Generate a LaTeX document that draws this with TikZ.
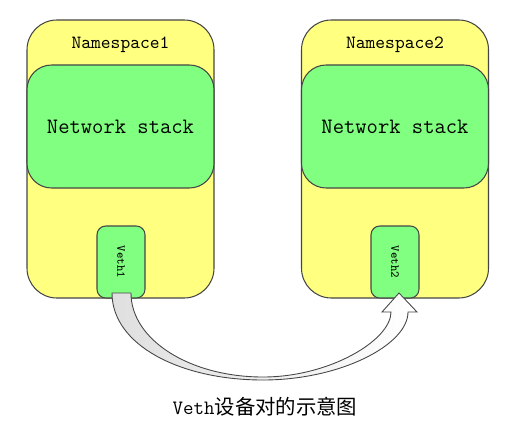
\documentclass[tikz,border=0pt]{standalone}
\usepackage{fontspec}
\newfontfamily\cjk{Noto Sans CJK SC}
\definecolor{nsyellow}{RGB}{255,255,128}
\definecolor{stackgreen}{RGB}{128,255,128}
\definecolor{edgegray}{RGB}{70,70,70}
\begin{document}
\begin{tikzpicture}[
    nsbox/.style={draw=edgegray, fill=nsyellow, rounded corners=17pt,
                  minimum width=3.74cm, minimum height=5.56cm, line width=0.6pt},
    stack/.style={draw=edgegray, fill=stackgreen, rounded corners=14pt,
                  minimum width=3.74cm, minimum height=2.46cm, line width=0.6pt,
                  font=\fontsize{12.5}{14}\ttfamily},
    veth/.style={draw=edgegray, fill=stackgreen, rounded corners=5pt,
                 minimum width=0.96cm, minimum height=1.44cm, line width=0.6pt},
    vlbl/.style={font=\fontsize{6.9}{8}\ttfamily, rotate=-90},
    nslbl/.style={font=\fontsize{10.6}{12}\ttfamily}
]
\useasboundingbox (0,0) rectangle (10.26,-8.52);

% namespaces
\node[nsbox] (ns1) at (2.41,-3.18) {};
\node[nsbox] (ns2) at (7.90,-3.18) {};
\node[nslbl] (ns1lbl) at (2.41,-0.90) {Namespace1};
\node[nslbl] (ns2lbl) at (7.90,-0.90) {Namespace2};

% stacks
\node[stack] (stack1) at (2.41,-2.53) {Network stack};
\node[stack] (stack2) at (7.90,-2.53) {Network stack};

% veth pair
\node[veth] (veth1) at (2.42,-5.24) {};
\node[veth] (veth2) at (7.90,-5.24) {};
\node[vlbl] at (veth1) {Veth1};
\node[vlbl] at (veth2) {Veth2};

% curved block arrow
\path[draw=edgegray, line width=0.5pt, left color=gray!25, right color=white]
    (2.24,-5.86) .. controls (2.24,-6.90) and (3.60,-7.60) .. (5.26,-7.60)
    .. controls (6.80,-7.60) and (8.16,-6.90) .. (8.16,-6.24)
    -- (8.34,-6.24) -- (7.98,-5.86) -- (7.64,-6.24) -- (7.82,-6.24)
    .. controls (7.82,-6.80) and (6.60,-7.54) .. (5.26,-7.54)
    .. controls (3.80,-7.54) and (2.62,-6.80) .. (2.62,-5.86) -- cycle;

\node[font=\fontsize{11.6}{14}\selectfont] (title) at (5.30,-8.14)
    {\ttfamily Veth\cjk 设备对的示意图};

\end{tikzpicture}
\end{document}
